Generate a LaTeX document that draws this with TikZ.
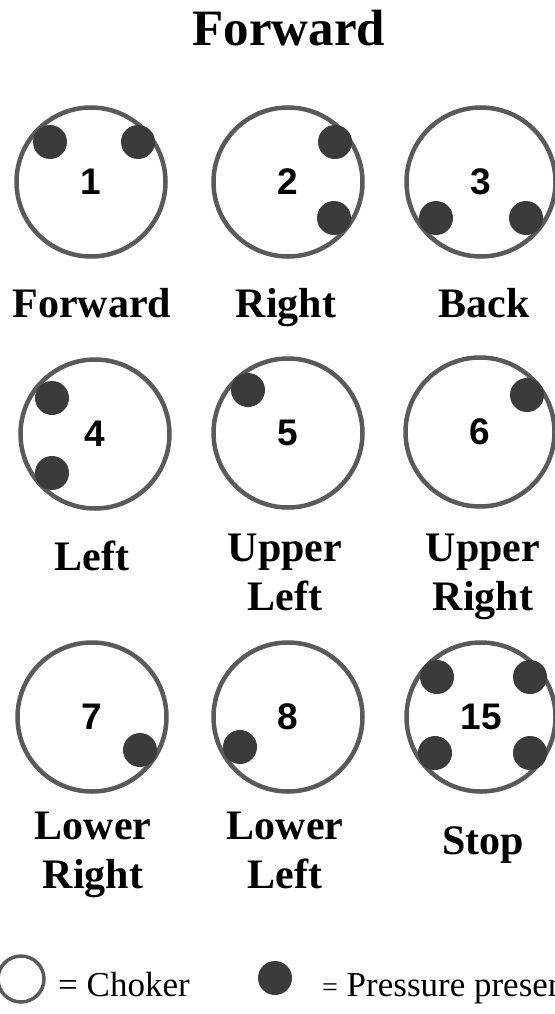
\documentclass[tikz,border=0pt]{standalone}
\usepackage{fontspec}
\setmainfont{Liberation Serif}
\newfontfamily\numfont{Liberation Sans}
\usetikzlibrary{positioning}
\definecolor{ringgray}{HTML}{5A5A5A}
\definecolor{dotgray}{HTML}{3B3B3B}

\begin{document}
\begin{tikzpicture}[x=1pt,y=-1pt,
    choker/.style={circle, draw=ringgray, line width=4.5pt, minimum size=149pt, inner sep=0pt,
      font=\numfont\bfseries\fontsize{37}{37}\selectfont},
    press/.style={circle, fill=dotgray, minimum size=34pt, inner sep=0pt},
    lbl/.style={anchor=north, inner sep=0pt, align=center,
      font=\bfseries\fontsize{42}{49}\selectfont},
    legtext/.style={anchor=base west, inner sep=0pt, font=\fontsize{35}{35}\selectfont}]
  \useasboundingbox (0,0) rectangle (554,1014);

  \node[anchor=north, inner sep=0pt, font=\bfseries\fontsize{51}{51}\selectfont] (title) at (289,10) {Forward};

  % Row 1
  \node[choker] (c1) at (91,182) {1};
  \node[choker] (c2) at (288,182) {2};
  \node[choker] (c3) at (481,182) {3};
  \node[press] (p1a) at (50,142) {};
  \node[press] (p1b) at (138,142) {};
  \node[press] (p2a) at (335,142) {};
  \node[press] (p2b) at (334,218) {};
  \node[press] (p3a) at (436,218) {};
  \node[press] (p3b) at (526,218) {};
  \node[lbl] (l1) at (92,288) {Forward};
  \node[lbl] (l2) at (286,288) {Right};
  \node[lbl] (l3) at (484,288) {Back};

  % Row 2
  \node[choker] (c4) at (95,434) {4};
  \node[choker] (c5) at (288,433) {5};
  \node[choker] (c6) at (480,432) {6};
  \node[press] (p4a) at (52,398) {};
  \node[press] (p4b) at (52,473) {};
  \node[press] (p5a) at (248,390) {};
  \node[press] (p6a) at (527,395) {};
  \node[lbl] (l4) at (92,541) {Left};
  \node[lbl] (l5) at (285,534) {Upper\\Left};
  \node[lbl] (l6) at (483,534) {Upper\\Right};

  % Row 3
  \node[choker] (c7) at (92,717) {7};
  \node[choker] (c8) at (288,717) {8};
  \node[choker] (c15) at (481,717) {15};
  \node[press] (p7a) at (140,750) {};
  \node[press] (p8a) at (240,747) {};
  \node[press] (p15a) at (437,677) {};
  \node[press] (p15b) at (530,677) {};
  \node[press] (p15c) at (435,753) {};
  \node[press] (p15d) at (530,753) {};
  \node[lbl] (l7) at (93,812) {Lower\\Right};
  \node[lbl] (l8) at (285,812) {Lower\\Left};
  \node[lbl] (l15) at (483,826) {Stop};

  % Legend
  \node[circle, draw=ringgray, line width=3.5pt, minimum size=46pt, inner sep=0pt] (keyring) at (21,979) {};
  \node[legtext] (keyring-t) at (58,996) {= Choker};
  \node[press] (keydot) at (275,978) {};
  \node[legtext] (keydot-t) at (322,996) {{\fontsize{28}{28}\selectfont =} Pressure present};
\end{tikzpicture}
\end{document}
